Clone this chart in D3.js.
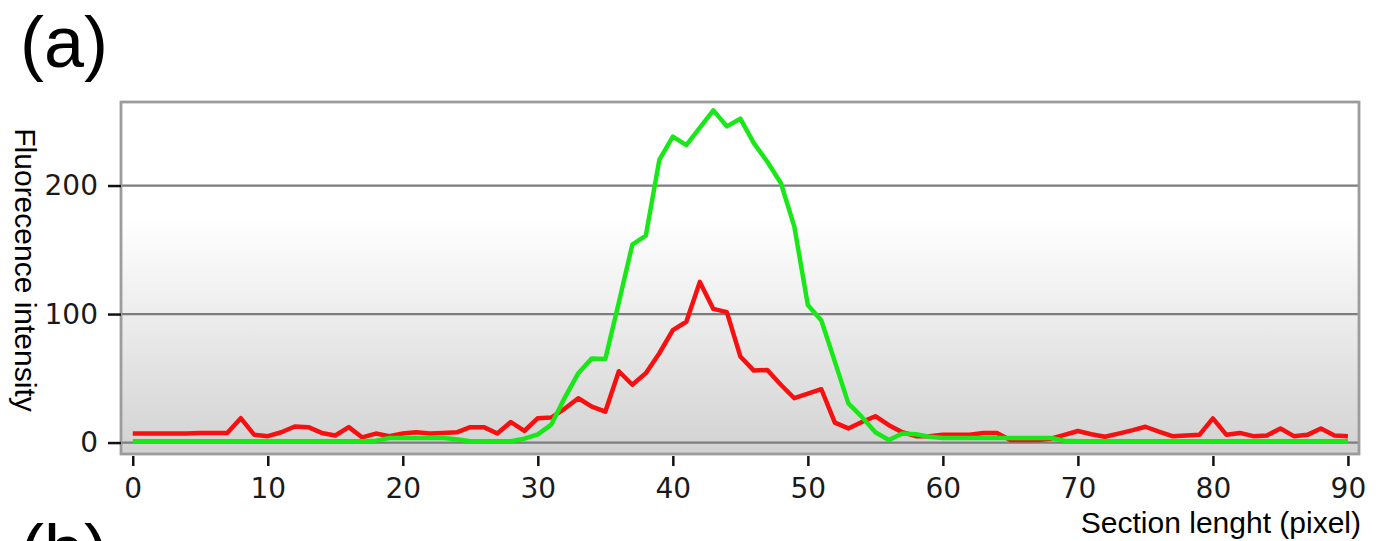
<!DOCTYPE html>
<html>
<head>
<meta charset="utf-8">
<script src="https://cdn.jsdelivr.net/npm/d3@7"></script>
<style>
  html, body { margin: 0; padding: 0; background: #ffffff; }
  svg { display: block; }
</style>
</head>
<body>
<svg id="chart" width="1379" height="541"></svg>
<script>
// ---- data ----
const sectionPixels = d3.range(0, 91); // pixel index along the section, 0..90
const redIntensity = [7,7,7,7,7,7.5,7.5,7.5,19,6,
  5,8,12.5,12,7.5,5.5,12,4,7,5,
  7,8,7,7.5,8,12,12,7,16,9,
  19,19.5,26.5,34.5,28,24,55.5,45,54,69.5,
  87.5,94,125,104,101.5,67,56,56.5,45,34.5,
  38,41.5,15.5,11,16,20.5,13.5,8,5,5,
  6,6,6,7.5,7.5,2,2,2,3,6,
  9,6.5,4.5,7,9.5,12.3,8.5,5,5.5,6,
  18.8,6,7.5,5,5.5,11,5,6,11,5.5,5];
const greenIntensity = [1,1,1,1,1,1,1,1,1,1,
  1,1,1,1,1,1,1,1,1.5,3.5,
  3.5,3.5,3.5,3.5,2.5,1,1,1,1,3,
  6.4,14,35,54,65.5,65,109,154,161,220,
  238,231.5,245,258.5,246,252,233,218.5,202,168,
  107,95,63,30.5,20,8,2,7,6.5,4.5,
  3.5,3.5,3.5,3.5,3.5,3.5,3.5,3.5,3.5,1.5,
  1,1,1,1,1,1,1,1,1,1,
  1,1,1,1,1,1,1,1,1,1,1];
const xTicks = [0,10,20,30,40,50,60,70,80,90];
const yTicks = [0,100,200];
const xTitle = "Section lenght (pixel)";
const yTitle = "Fluorecence intensity";
const panelLabel = "(a)";
const nextPanelLabel = "(b)";

// ---- layout ----
const svg = d3.select("#chart");
const plot = { left: 121, top: 102, right: 1359, bottom: 454 };

const x = d3.scaleLinear().domain([-0.87, 90.82]).range([plot.left, plot.right]);
const y = d3.scaleLinear().domain([-8.9, 265]).range([plot.bottom, plot.top]);

const defs = svg.append("defs");
const grad = defs.append("linearGradient").attr("id", "bg")
  .attr("x1", 0).attr("y1", 0).attr("x2", 0).attr("y2", 1);
grad.append("stop").attr("offset", 0).attr("stop-color", "#ffffff");
grad.append("stop").attr("offset", 0.33).attr("stop-color", "#ffffff");
grad.append("stop").attr("offset", 1).attr("stop-color", "#d2d2d2");

defs.append("clipPath").attr("id", "clip").append("rect")
  .attr("x", plot.left).attr("y", plot.top)
  .attr("width", plot.right - plot.left).attr("height", plot.bottom - plot.top);

// background
svg.append("rect")
  .attr("x", plot.left).attr("y", plot.top)
  .attr("width", plot.right - plot.left).attr("height", plot.bottom - plot.top)
  .attr("fill", "url(#bg)");

// grid lines
svg.append("g").selectAll("line").data(yTicks).join("line")
  .attr("x1", plot.left).attr("x2", plot.right)
  .attr("y1", d => y(d)).attr("y2", d => y(d))
  .attr("stroke", "#7c7c7c").attr("stroke-width", 2.2);

// lines
const line = d3.line().x((d, i) => x(sectionPixels[i])).y(d => y(d));
const lines = svg.append("g").attr("clip-path", "url(#clip)");
lines.append("path").datum(redIntensity)
  .attr("d", line).attr("fill", "none")
  .attr("stroke", "#f81010").attr("stroke-width", 4.5)
  .attr("stroke-linejoin", "round");
lines.append("path").datum(greenIntensity)
  .attr("d", line).attr("fill", "none")
  .attr("stroke", "#18e818").attr("stroke-width", 4.5)
  .attr("stroke-linejoin", "round");

// frame
svg.append("rect")
  .attr("x", plot.left).attr("y", plot.top)
  .attr("width", plot.right - plot.left).attr("height", plot.bottom - plot.top)
  .attr("fill", "none").attr("stroke", "#9c9c9c").attr("stroke-width", 2.8);

// x axis
const xAxis = d3.axisBottom(x).tickValues(xTicks).tickSize(10).tickPadding(12);
const gx = svg.append("g").attr("transform", `translate(0,${plot.bottom + 2})`).call(xAxis);
gx.select(".domain").remove();
gx.selectAll(".tick line").attr("stroke", "#111").attr("stroke-width", 2.5);
gx.selectAll(".tick text")
  .attr("font-family", "'DejaVu Sans', Verdana, sans-serif")
  .attr("font-size", 28).attr("fill", "#1a1a1a");

// y axis
const yAxis = d3.axisLeft(y).tickValues(yTicks).tickSize(13).tickPadding(10);
const gy = svg.append("g").attr("transform", `translate(${plot.left},0)`).call(yAxis);
gy.select(".domain").remove();
gy.selectAll(".tick line").attr("stroke", "#111").attr("stroke-width", 2.5);
gy.selectAll(".tick text")
  .attr("font-family", "'DejaVu Sans', Verdana, sans-serif")
  .attr("font-size", 28).attr("fill", "#1a1a1a");

// titles
svg.append("text")
  .attr("x", 1361).attr("y", 533)
  .attr("text-anchor", "end")
  .attr("font-family", "'Liberation Sans', Arial, sans-serif")
  .attr("font-size", 30).attr("fill", "#000")
  .text(xTitle);

svg.append("text")
  .attr("transform", "translate(15,270) rotate(90)")
  .attr("text-anchor", "middle")
  .attr("font-family", "'Liberation Sans', Arial, sans-serif")
  .attr("font-size", 30).attr("fill", "#000")
  .text(yTitle);

svg.append("text")
  .attr("x", 20).attr("y", 67)
  .attr("font-family", "'Liberation Sans', Arial, sans-serif")
  .attr("font-size", 72).attr("fill", "#000")
  .text(panelLabel);

svg.append("text")
  .attr("x", 20).attr("y", 575)
  .attr("font-family", "'Liberation Sans', Arial, sans-serif")
  .attr("font-size", 72).attr("fill", "#000")
  .text(nextPanelLabel);
</script>
</body>
</html>
